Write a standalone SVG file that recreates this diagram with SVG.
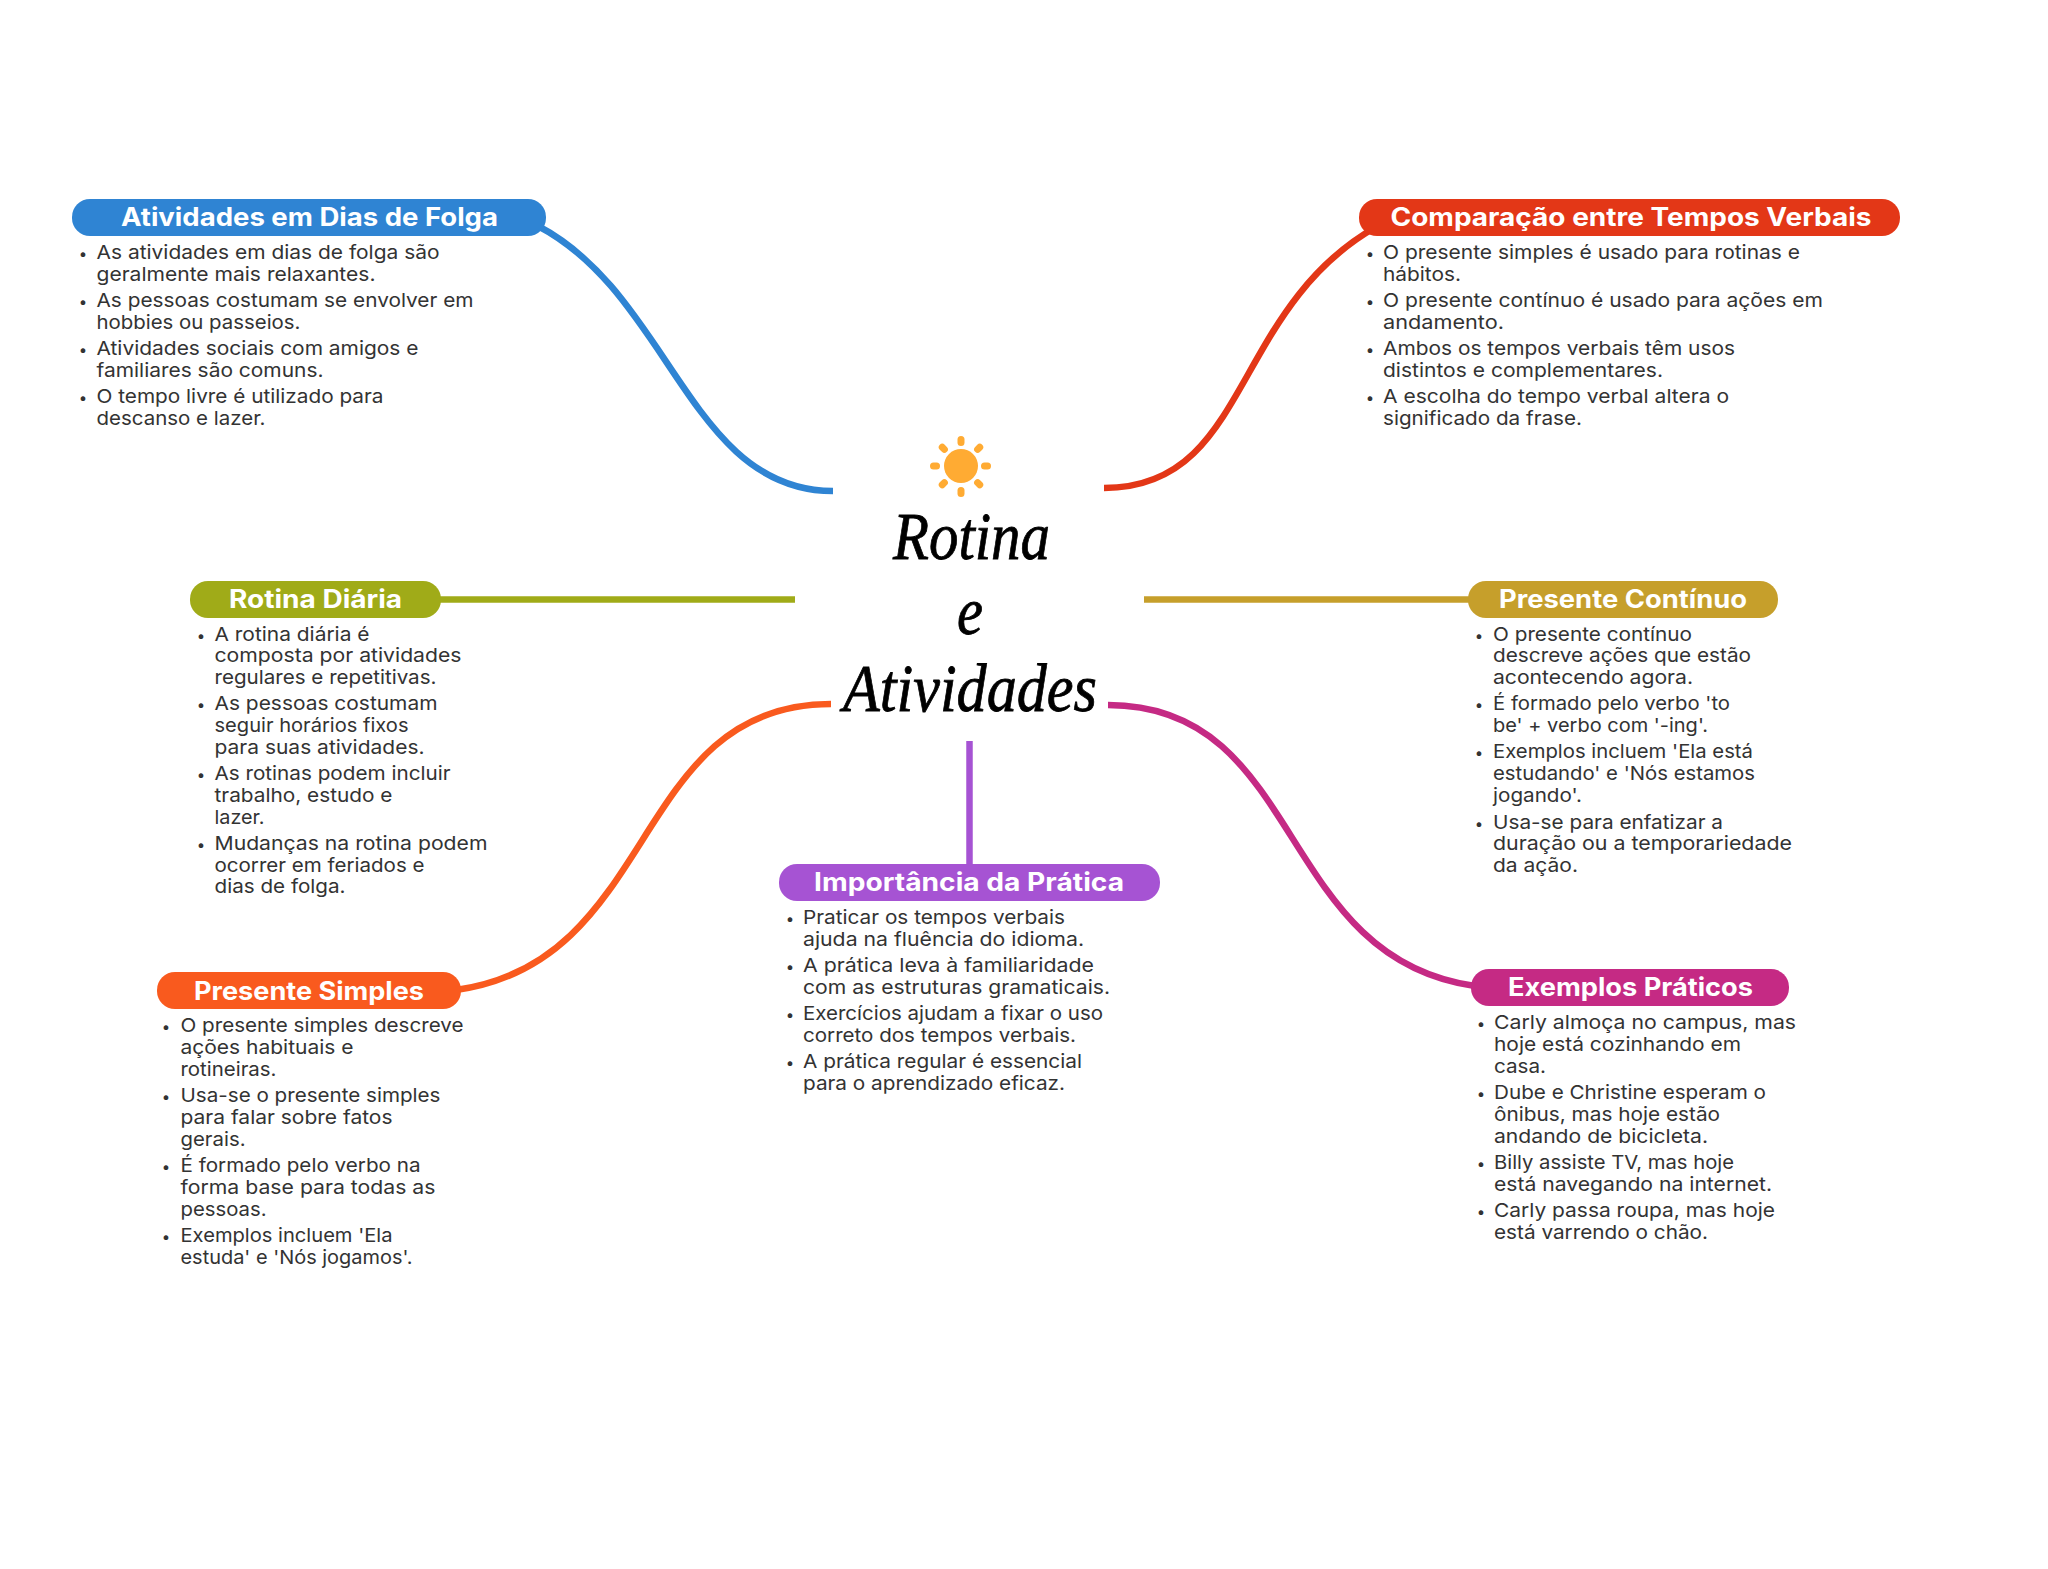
<svg xmlns="http://www.w3.org/2000/svg" width="2048" height="1569" viewBox="0 0 2048 1569">
<style>
.c{fill:none;stroke-width:6.500}
.t{font-family:"Inter","Liberation Sans",sans-serif;font-weight:700;font-size:25px;fill:#fff}
.b{font-family:"Inter","Liberation Sans",sans-serif;font-size:19px;fill:#333}
.d{font-family:"Inter","Liberation Sans",sans-serif;font-size:15px;fill:#333;text-anchor:middle}
.s{font-family:"Liberation Serif",serif;font-style:italic;font-size:68px;fill:#000;stroke:#000;stroke-width:.8}
.r{fill:#FFAB33}
</style>
<rect width="2048" height="1569" fill="#fff"/>
<g id="connectors">
<path class="c" stroke="#2F84D3" d="M833 491C690 491 670 295 538 226"/>
<path class="c" stroke="#E33717" d="M1104 488C1250 488 1230 310 1376 227"/>
<path class="c" stroke="#A0AB18" d="M436 599.500H795"/>
<path class="c" stroke="#C69F2B" d="M1144 599.500H1475"/>
<path class="c" stroke="#F95A1E" d="M831 704C630 704 660 962 456 990"/>
<path class="c" stroke="#C52A84" d="M1108 705C1305 705 1275 958 1475 986"/>
<path class="c" stroke="#A653D3" d="M969.500 741V868"/>
</g>
<g id="center">
<circle class="r" cx="961" cy="466" r="17"/>
<g class="r">
<rect x="957.500" y="436" width="7" height="10" rx="3.500"/>
<rect x="957.500" y="487" width="7" height="10" rx="3.500"/>
<rect x="930" y="462.500" width="10" height="7" rx="3.500"/>
<rect x="981" y="462.500" width="10" height="7" rx="3.500"/>
<rect x="957.500" y="436" width="7" height="10" rx="3.500" transform="rotate(45 961 466)"/>
<rect x="957.500" y="436" width="7" height="10" rx="3.500" transform="rotate(135 961 466)"/>
<rect x="957.500" y="436" width="7" height="10" rx="3.500" transform="rotate(225 961 466)"/>
<rect x="957.500" y="436" width="7" height="10" rx="3.500" transform="rotate(315 961 466)"/>
</g>
<text class="s" x="893" y="559" textLength="157" lengthAdjust="spacingAndGlyphs">Rotina</text>
<text class="s" x="957" y="634" textLength="26" lengthAdjust="spacingAndGlyphs">e</text>
<text class="s" x="843" y="711" textLength="254" lengthAdjust="spacingAndGlyphs">Atividades</text>
</g>
<g id="atividades-folga">
<rect x="72" y="199" width="474" height="37" rx="18" fill="#2F84D3"/>
<text class="t" x="121" y="225.500" textLength="377" lengthAdjust="spacingAndGlyphs">Atividades em Dias de Folga</text>
<text class="d" x="83" y="259">•</text><text class="b" x="96.500" y="259" textLength="343" lengthAdjust="spacingAndGlyphs">As atividades em dias de folga são</text>
<text class="b" x="96.500" y="281" textLength="279" lengthAdjust="spacingAndGlyphs">geralmente mais relaxantes.</text>
<text class="d" x="83" y="307">•</text><text class="b" x="96.500" y="307" textLength="377" lengthAdjust="spacingAndGlyphs">As pessoas costumam se envolver em</text>
<text class="b" x="96.500" y="329" textLength="204" lengthAdjust="spacingAndGlyphs">hobbies ou passeios.</text>
<text class="d" x="83" y="355">•</text><text class="b" x="96.500" y="355" textLength="322" lengthAdjust="spacingAndGlyphs">Atividades sociais com amigos e</text>
<text class="b" x="96.500" y="377" textLength="227" lengthAdjust="spacingAndGlyphs">familiares são comuns.</text>
<text class="d" x="83" y="403">•</text><text class="b" x="96.500" y="403" textLength="287" lengthAdjust="spacingAndGlyphs">O tempo livre é utilizado para</text>
<text class="b" x="96.500" y="425" textLength="169" lengthAdjust="spacingAndGlyphs">descanso e lazer.</text>
</g>
<g id="comparacao">
<rect x="1359" y="199" width="541" height="37" rx="18" fill="#E33717"/>
<text class="t" x="1390.500" y="225.500" textLength="481" lengthAdjust="spacingAndGlyphs">Comparação entre Tempos Verbais</text>
<text class="d" x="1370" y="259">•</text><text class="b" x="1383" y="259" textLength="417" lengthAdjust="spacingAndGlyphs">O presente simples é usado para rotinas e</text>
<text class="b" x="1383" y="281" textLength="78" lengthAdjust="spacingAndGlyphs">hábitos.</text>
<text class="d" x="1370" y="307">•</text><text class="b" x="1383" y="307" textLength="440" lengthAdjust="spacingAndGlyphs">O presente contínuo é usado para ações em</text>
<text class="b" x="1383" y="329" textLength="121" lengthAdjust="spacingAndGlyphs">andamento.</text>
<text class="d" x="1370" y="355">•</text><text class="b" x="1383" y="355" textLength="352" lengthAdjust="spacingAndGlyphs">Ambos os tempos verbais têm usos</text>
<text class="b" x="1383" y="377" textLength="280" lengthAdjust="spacingAndGlyphs">distintos e complementares.</text>
<text class="d" x="1370" y="403">•</text><text class="b" x="1383" y="403" textLength="346" lengthAdjust="spacingAndGlyphs">A escolha do tempo verbal altera o</text>
<text class="b" x="1383" y="425" textLength="199" lengthAdjust="spacingAndGlyphs">significado da frase.</text>
</g>
<g id="rotina-diaria">
<rect x="190" y="581" width="251" height="37" rx="18" fill="#A0AB18"/>
<text class="t" x="229" y="607.500" textLength="173" lengthAdjust="spacingAndGlyphs">Rotina Diária</text>
<text class="d" x="201" y="641">•</text><text class="b" x="214.500" y="641" textLength="155" lengthAdjust="spacingAndGlyphs">A rotina diária é</text>
<text class="b" x="214.500" y="662" textLength="247" lengthAdjust="spacingAndGlyphs">composta por atividades</text>
<text class="b" x="214.500" y="684" textLength="222" lengthAdjust="spacingAndGlyphs">regulares e repetitivas.</text>
<text class="d" x="201" y="710">•</text><text class="b" x="214.500" y="710" textLength="223" lengthAdjust="spacingAndGlyphs">As pessoas costumam</text>
<text class="b" x="214.500" y="732" textLength="194" lengthAdjust="spacingAndGlyphs">seguir horários fixos</text>
<text class="b" x="214.500" y="754" textLength="210" lengthAdjust="spacingAndGlyphs">para suas atividades.</text>
<text class="d" x="201" y="780">•</text><text class="b" x="214.500" y="780" textLength="236" lengthAdjust="spacingAndGlyphs">As rotinas podem incluir</text>
<text class="b" x="214.500" y="802" textLength="178" lengthAdjust="spacingAndGlyphs">trabalho, estudo e</text>
<text class="b" x="214.500" y="824" textLength="50" lengthAdjust="spacingAndGlyphs">lazer.</text>
<text class="d" x="201" y="850">•</text><text class="b" x="214.500" y="850" textLength="273" lengthAdjust="spacingAndGlyphs">Mudanças na rotina podem</text>
<text class="b" x="214.500" y="872" textLength="210" lengthAdjust="spacingAndGlyphs">ocorrer em feriados e</text>
<text class="b" x="214.500" y="893" textLength="131" lengthAdjust="spacingAndGlyphs">dias de folga.</text>
</g>
<g id="presente-simples">
<rect x="157" y="972" width="304" height="37" rx="18" fill="#F95A1E"/>
<text class="t" x="194" y="999.500" textLength="230" lengthAdjust="spacingAndGlyphs">Presente Simples</text>
<text class="d" x="166" y="1032">•</text><text class="b" x="180.500" y="1032" textLength="283" lengthAdjust="spacingAndGlyphs">O presente simples descreve</text>
<text class="b" x="180.500" y="1054" textLength="173" lengthAdjust="spacingAndGlyphs">ações habituais e</text>
<text class="b" x="180.500" y="1076" textLength="96" lengthAdjust="spacingAndGlyphs">rotineiras.</text>
<text class="d" x="166" y="1102">•</text><text class="b" x="180.500" y="1102" textLength="260" lengthAdjust="spacingAndGlyphs">Usa-se o presente simples</text>
<text class="b" x="180.500" y="1124" textLength="212" lengthAdjust="spacingAndGlyphs">para falar sobre fatos</text>
<text class="b" x="180.500" y="1146" textLength="65" lengthAdjust="spacingAndGlyphs">gerais.</text>
<text class="d" x="166" y="1172">•</text><text class="b" x="180.500" y="1172" textLength="240" lengthAdjust="spacingAndGlyphs">É formado pelo verbo na</text>
<text class="b" x="180.500" y="1194" textLength="255" lengthAdjust="spacingAndGlyphs">forma base para todas as</text>
<text class="b" x="180.500" y="1216" textLength="86" lengthAdjust="spacingAndGlyphs">pessoas.</text>
<text class="d" x="166" y="1242">•</text><text class="b" x="180.500" y="1242" textLength="212" lengthAdjust="spacingAndGlyphs">Exemplos incluem 'Ela</text>
<text class="b" x="180.500" y="1264" textLength="232" lengthAdjust="spacingAndGlyphs">estuda' e 'Nós jogamos'.</text>
</g>
<g id="importancia">
<rect x="779" y="864" width="381" height="37" rx="18" fill="#A653D3"/>
<text class="t" x="814" y="891" textLength="310" lengthAdjust="spacingAndGlyphs">Importância da Prática</text>
<text class="d" x="790" y="924">•</text><text class="b" x="803" y="924" textLength="262" lengthAdjust="spacingAndGlyphs">Praticar os tempos verbais</text>
<text class="b" x="803" y="946" textLength="281" lengthAdjust="spacingAndGlyphs">ajuda na fluência do idioma.</text>
<text class="d" x="790" y="972">•</text><text class="b" x="803" y="972" textLength="291" lengthAdjust="spacingAndGlyphs">A prática leva à familiaridade</text>
<text class="b" x="803" y="994" textLength="307" lengthAdjust="spacingAndGlyphs">com as estruturas gramaticais.</text>
<text class="d" x="790" y="1020">•</text><text class="b" x="803" y="1020" textLength="300" lengthAdjust="spacingAndGlyphs">Exercícios ajudam a fixar o uso</text>
<text class="b" x="803" y="1042" textLength="273" lengthAdjust="spacingAndGlyphs">correto dos tempos verbais.</text>
<text class="d" x="790" y="1068">•</text><text class="b" x="803" y="1068" textLength="279" lengthAdjust="spacingAndGlyphs">A prática regular é essencial</text>
<text class="b" x="803" y="1090" textLength="262" lengthAdjust="spacingAndGlyphs">para o aprendizado eficaz.</text>
</g>
<g id="presente-continuo">
<rect x="1468" y="581" width="310" height="37" rx="18" fill="#C69F2B"/>
<text class="t" x="1499" y="607.500" textLength="248" lengthAdjust="spacingAndGlyphs">Presente Contínuo</text>
<text class="d" x="1479" y="641">•</text><text class="b" x="1493" y="641" textLength="199" lengthAdjust="spacingAndGlyphs">O presente contínuo</text>
<text class="b" x="1493" y="662" textLength="258" lengthAdjust="spacingAndGlyphs">descreve ações que estão</text>
<text class="b" x="1493" y="684" textLength="200" lengthAdjust="spacingAndGlyphs">acontecendo agora.</text>
<text class="d" x="1479" y="710">•</text><text class="b" x="1493" y="710" textLength="237" lengthAdjust="spacingAndGlyphs">É formado pelo verbo 'to</text>
<text class="b" x="1493" y="732" textLength="215" lengthAdjust="spacingAndGlyphs">be' + verbo com '-ing'.</text>
<text class="d" x="1479" y="758">•</text><text class="b" x="1493" y="758" textLength="260" lengthAdjust="spacingAndGlyphs">Exemplos incluem 'Ela está</text>
<text class="b" x="1493" y="780" textLength="262" lengthAdjust="spacingAndGlyphs">estudando' e 'Nós estamos</text>
<text class="b" x="1493" y="802" textLength="89" lengthAdjust="spacingAndGlyphs">jogando'.</text>
<text class="d" x="1479" y="829">•</text><text class="b" x="1493" y="829" textLength="230" lengthAdjust="spacingAndGlyphs">Usa-se para enfatizar a</text>
<text class="b" x="1493" y="850" textLength="299" lengthAdjust="spacingAndGlyphs">duração ou a temporariedade</text>
<text class="b" x="1493" y="872" textLength="85" lengthAdjust="spacingAndGlyphs">da ação.</text>
</g>
<g id="exemplos">
<rect x="1471" y="969" width="318" height="37" rx="18" fill="#C52A84"/>
<text class="t" x="1508" y="996" textLength="245" lengthAdjust="spacingAndGlyphs">Exemplos Práticos</text>
<text class="d" x="1481" y="1029">•</text><text class="b" x="1494" y="1029" textLength="302" lengthAdjust="spacingAndGlyphs">Carly almoça no campus, mas</text>
<text class="b" x="1494" y="1051" textLength="247" lengthAdjust="spacingAndGlyphs">hoje está cozinhando em</text>
<text class="b" x="1494" y="1073" textLength="52" lengthAdjust="spacingAndGlyphs">casa.</text>
<text class="d" x="1481" y="1099">•</text><text class="b" x="1494" y="1099" textLength="272" lengthAdjust="spacingAndGlyphs">Dube e Christine esperam o</text>
<text class="b" x="1494" y="1121" textLength="226" lengthAdjust="spacingAndGlyphs">ônibus, mas hoje estão</text>
<text class="b" x="1494" y="1143" textLength="214" lengthAdjust="spacingAndGlyphs">andando de bicicleta.</text>
<text class="d" x="1481" y="1169">•</text><text class="b" x="1494" y="1169" textLength="240" lengthAdjust="spacingAndGlyphs">Billy assiste TV, mas hoje</text>
<text class="b" x="1494" y="1191" textLength="278" lengthAdjust="spacingAndGlyphs">está navegando na internet.</text>
<text class="d" x="1481" y="1217">•</text><text class="b" x="1494" y="1217" textLength="281" lengthAdjust="spacingAndGlyphs">Carly passa roupa, mas hoje</text>
<text class="b" x="1494" y="1239" textLength="214" lengthAdjust="spacingAndGlyphs">está varrendo o chão.</text>
</g>
</svg>
